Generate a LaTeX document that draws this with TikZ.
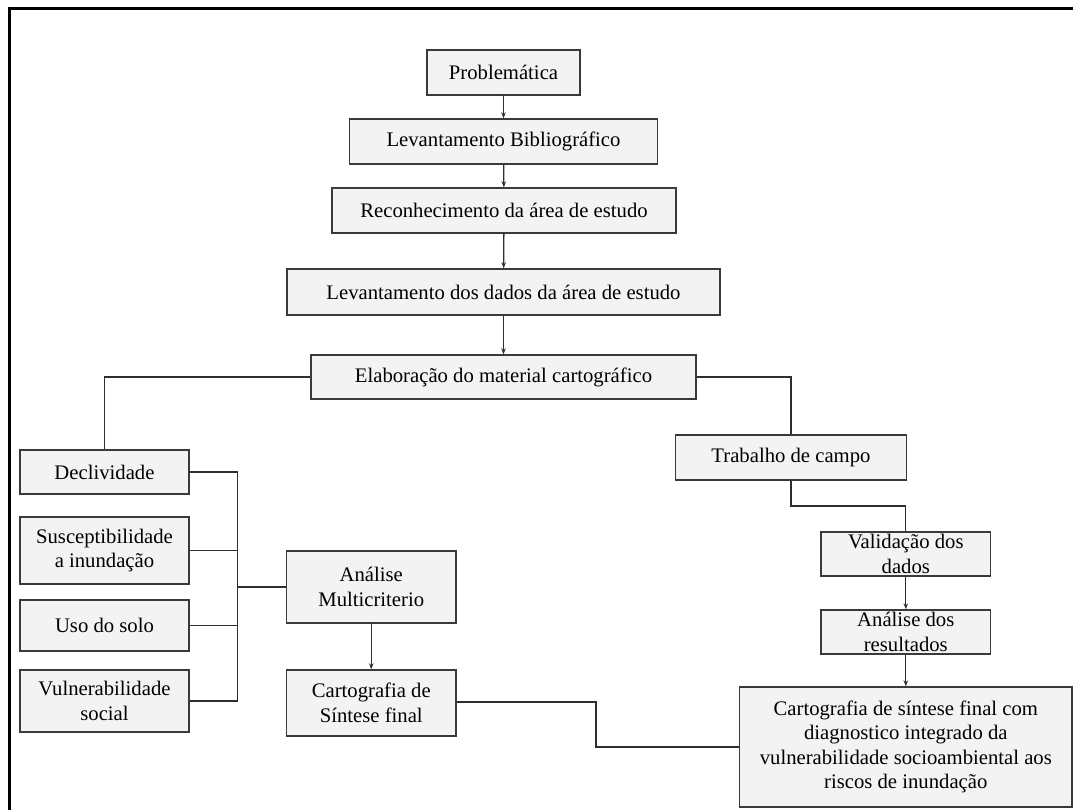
\documentclass[tikz,border=0pt]{standalone}
\usepackage{fontspec}
\setmainfont{Liberation Serif}
\usetikzlibrary{arrows.meta}
\definecolor{boxfill}{HTML}{F3F3F3}
\definecolor{boxline}{HTML}{3A3A3A}
\definecolor{wire}{HTML}{2E2E2E}
\tikzset{
  stage/.style={draw=boxline, fill=boxfill, line width=1.4pt, inner sep=0pt,
    align=center, text=black,
    font=\fontsize{20.7}{24.5}\selectfont},
  link/.style={draw=wire, line width=1.3pt},
  flow/.style={link, -{Stealth[length=6pt,width=4.5pt]}},
}
\newcommand{\stagebox}[5]{%
  \node[stage, minimum width=#3pt, minimum height=#4pt] (#1) at (#2) {#5};}
\begin{document}
\begin{tikzpicture}[x=1pt, y=-1pt]
  \useasboundingbox (0,0) rectangle (1073,810);
  % page frame (top and left edges)
  \draw[line width=3pt, black] (9,810) -- (9,9) -- (1073,9);

  % main sequence
  \stagebox{prob}{503.5,72.5}{153}{45}{Problemática}
  \stagebox{lev}{503.5,141.5}{308}{45}{Levantamento Bibliográfico}
  \stagebox{rec}{504,210.5}{344}{45}{Reconhecimento da área de estudo}
  \stagebox{dados}{503.5,292}{433}{46}{Levantamento dos dados da área de estudo}
  \stagebox{elab}{503.5,377}{385}{44}{Elaboração do material cartográfico}

  % left branch: criteria
  \stagebox{decl}{104.5,472}{169}{44}{Declividade}
  \stagebox{susc}{104.5,550.5}{169}{67}{Susceptibilidade\\a inundação}
  \stagebox{uso}{104.5,625.5}{169}{51}{Uso do solo}
  \stagebox{vuln}{104.5,701}{169}{62}{Vulnerabilidade\\social}
  \stagebox{multi}{371.25,587}{169.5}{72}{Análise\\Multicriterio}
  \stagebox{cart}{371.25,703}{169.5}{66}{Cartografia de\\Síntese final}

  % right branch: field work
  \stagebox{trab}{791,457.5}{231}{45}{Trabalho de campo}
  \stagebox{valid}{905.8,554}{169.6}{44}{Validação dos\\dados}
  \stagebox{anal}{905.8,632}{169.6}{44}{Análise dos\\resultados}
  \stagebox{big}{905.8,747}{332.5}{120}{Cartografia de síntese final com\\diagnostico integrado da\\vulnerabilidade socioambiental aos\\riscos de inundação}

  % connectors along the main sequence
  \draw[flow] (prob) -- (lev);
  \draw[flow] (lev) -- (rec);
  \draw[flow] (rec) -- (dados);
  \draw[flow] (dados) -- (elab);

  % split towards the two branches
  \draw[link] (elab.west) -| (decl.north);
  \draw[link] (elab.east) -| (trab.north);

  % criteria bus into the multicriteria analysis
  \coordinate (bus) at (237.6,587);
  \draw[link] (decl.east) -| (bus |- vuln.east) -- (vuln.east);
  \draw[link] (susc.east) -- (bus |- susc.east);
  \draw[link] (uso.east) -- (bus |- uso.east);
  \draw[link] (bus) -- (multi.west);
  \draw[flow] (multi) -- (cart);

  % field work chain
  \coordinate (tbend) at (791,506);
  \draw[link] (trab.south) -- (tbend) -| (valid.north);
  \draw[flow] (valid) -- (anal);
  \draw[flow] (anal) -- (big);

  % final synthesis link
  \coordinate (cbend) at (596,702);
  \draw[link] (cart.east |- cbend) -- (cbend) |- (big.west);
\end{tikzpicture}
\end{document}
